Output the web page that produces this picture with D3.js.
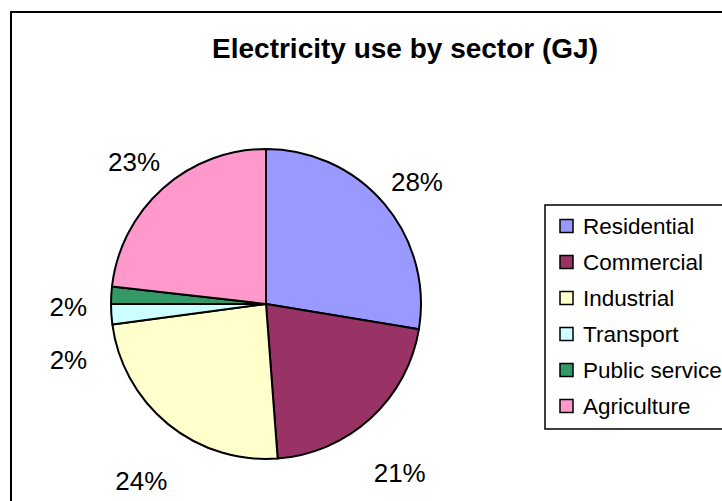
<!DOCTYPE html>
<html>
<head>
<meta charset="utf-8">
<script src="https://cdn.jsdelivr.net/npm/d3@7"></script>
<style>
  html, body { margin: 0; padding: 0; background: #fff; }
  svg { display: block; font-family: "Liberation Sans", Arial, sans-serif; }
</style>
</head>
<body>
<svg id="chart" width="722" height="501"></svg>
<script>
// Electricity use by sector, share of total (GJ)
const sectors = ["Residential", "Commercial", "Industrial", "Transport", "Public service", "Agriculture"];
const usage = [27.6, 21.2, 24.1, 2.1, 1.8, 23.2];
const colors = ["#9999FF", "#993366", "#FFFFCC", "#CCFFFF", "#339966", "#FF99CC"];
const title = "Electricity use by sector (GJ)";

const svg = d3.select("#chart");
const W = 722, H = 501;

// outer chart frame (extends past the window on right and bottom)
svg.append("rect")
  .attr("x", 11).attr("y", 12)
  .attr("width", W + 20).attr("height", H + 20)
  .attr("fill", "#fff").attr("stroke", "#000").attr("stroke-width", 2);

svg.append("text")
  .attr("x", 405).attr("y", 58)
  .attr("text-anchor", "middle")
  .attr("font-size", 28).attr("font-weight", "bold")
  .text(title);

const cx = 266, cy = 304, r = 155;
const total = d3.sum(usage);
const data = sectors.map((s, i) => ({ name: s, value: usage[i], color: colors[i] }));

const pie = d3.pie().value(d => d.value).sort(null);
const arcs = pie(data);
const arc = d3.arc().innerRadius(0).outerRadius(r);

const g = svg.append("g").attr("transform", `translate(${cx},${cy})`);
g.selectAll("path")
  .data(arcs)
  .join("path")
  .attr("d", arc)
  .attr("fill", d => d.data.color)
  .attr("stroke", "#000")
  .attr("stroke-width", 2)
  .attr("stroke-linejoin", "round");

// percentage labels on an elliptical ring outside the pie
const ringRx = 198, ringRy = 210, ringDy = 14, minGap = 54;
const labels = arcs.map(d => {
  const a = (d.startAngle + d.endAngle) / 2;
  return {
    text: Math.round(d.data.value / total * 100) + "%",
    x: ringRx * Math.sin(a),
    y: ringDy - ringRy * Math.cos(a),
    side: Math.sin(a) >= 0 ? 1 : -1
  };
});
// push overlapping labels on the same side apart
[1, -1].forEach(side => {
  const list = labels.filter(l => l.side === side).sort((a, b) => a.y - b.y);
  for (let i = 1; i < list.length; i++) {
    if (list[i].y - list[i - 1].y < minGap) list[i].y = list[i - 1].y + minGap;
  }
});

g.selectAll("text.pct")
  .data(labels)
  .join("text")
  .attr("class", "pct")
  .attr("x", d => d.x)
  .attr("y", d => d.y)
  .attr("dy", "0.36em")
  .attr("text-anchor", "middle")
  .attr("font-size", 26)
  .text(d => d.text);

// legend
const lg = svg.append("g");
lg.append("rect")
  .attr("x", 545).attr("y", 205)
  .attr("width", 200).attr("height", 224)
  .attr("fill", "#fff").attr("stroke", "#000").attr("stroke-width", 1.5);

const y = d3.scalePoint().domain(sectors).range([226, 406]);
const items = lg.selectAll("g.item")
  .data(data)
  .join("g")
  .attr("class", "item")
  .attr("transform", d => `translate(0,${y(d.name)})`);
items.append("rect")
  .attr("x", 560).attr("y", -6.5)
  .attr("width", 13).attr("height", 13)
  .attr("fill", d => d.color)
  .attr("stroke", "#000").attr("stroke-width", 1.5);
items.append("text")
  .attr("x", 583).attr("y", 0)
  .attr("dy", "0.36em")
  .attr("font-size", 22.5)
  .text(d => d.name);
</script>
</body>
</html>
